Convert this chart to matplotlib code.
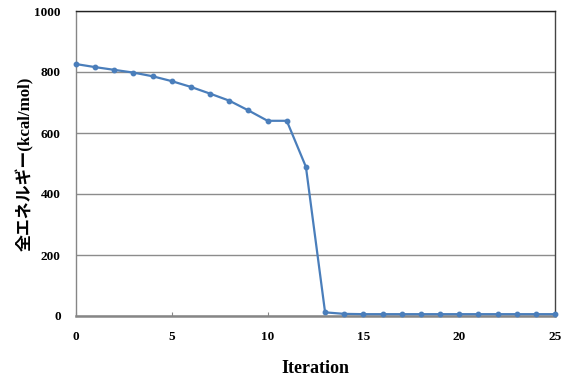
import matplotlib
matplotlib.use("Agg")
import matplotlib.pyplot as plt

iterations = list(range(26))
energy = [826, 816, 807, 798, 786, 770, 751, 729, 706, 674, 640, 640, 489,
          12, 7, 6, 6, 6, 6, 6, 6, 6, 6, 6, 6, 6]
yticks = [0, 200, 400, 600, 800, 1000]
xticks = [0, 5, 10, 15, 20, 25]

fig = plt.figure(figsize=(5.68, 3.84), dpi=100)
ax = fig.add_axes([76/568, 1-316/384, (555-76)/568, (316-11)/384])

ax.plot(iterations, energy, color="#4a7ebb", lw=1.6, marker="o", ms=3.2, zorder=3, clip_on=False)

ax.set_xlim(0, 25)
ax.set_ylim(0, 1000)
ax.set_xticks(xticks)
ax.set_yticks(yticks)
ax.yaxis.grid(True, color="#8c8c8c", lw=1.0)
ax.set_axisbelow(True)
for s in ax.spines.values():
    s.set_color("#868686")
    s.set_linewidth(1.0)
ax.spines["top"].set_color("#222222")
ax.spines["right"].set_color("#444444")
ax.spines["bottom"].set_linewidth(1.8)
ax.tick_params(axis="x", direction="in", length=3, color="#868686", pad=11)
ax.tick_params(axis="y", length=0, pad=11)
for lab in ax.get_xticklabels() + ax.get_yticklabels():
    lab.set_fontfamily("Liberation Serif")
    lab.set_fontweight("bold")
    lab.set_fontsize(9.5)

ax.set_xlabel("Iteration", fontfamily="Liberation Serif", fontweight="bold", fontsize=13, labelpad=12)
ax.set_ylabel("全エネルギー(kcal/mol)", family=["Liberation Serif", "Noto Sans CJK JP"],
              fontweight="bold", fontsize=12.2, labelpad=0)

fig.savefig("out.png", dpi=100)
